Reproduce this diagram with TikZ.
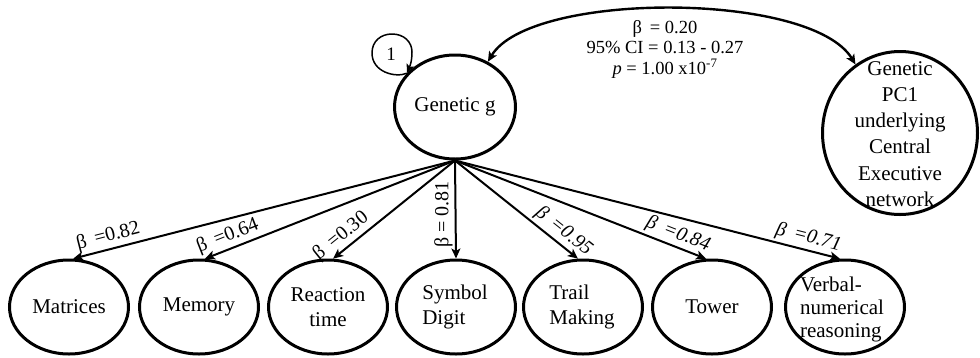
\documentclass[tikz,border=0pt]{standalone}
\usepackage{fontspec}
\setmainfont{Liberation Serif}
\usetikzlibrary{shapes.geometric,arrows.meta}

\begin{document}
\begin{tikzpicture}[x=1pt,y=-1pt,
  oval/.style={ellipse, draw, line width=3pt, inner sep=0pt},
  measure/.style={oval, minimum width=119pt, minimum height=94pt},
  txt/.style={font=\fontsize{21}{25}\selectfont, inner sep=0pt},
  loading/.style={line width=2pt, -{Stealth[length=10pt,width=9pt,inset=2.5pt]}},
  coef/.style={font=\fontsize{20}{24}\selectfont, sloped, above, inner sep=2.5pt},
  covar/.style={line width=2.4pt, {Stealth[length=10pt,width=9pt,inset=2.5pt]}-{Stealth[length=10pt,width=9pt,inset=2.5pt]}},
  varloop/.style={line width=1.5pt, -{Stealth[length=9pt,width=8pt,inset=2pt]}},
]
\useasboundingbox (0,0) rectangle (980,357);

% latent factors
\node[oval, minimum width=121pt, minimum height=104pt] (g) at (455,107) {};
\node[txt] (gt) at (g.center) {Genetic g};
\node[oval, minimum width=155pt, minimum height=163pt] (pc) at (900,133) {};
\node[txt, font=\fontsize{21}{26.2}\selectfont, align=center] (pct) at (900,134)
  {Genetic\\PC1\\underlying\\Central\\Executive\\network};

% cognitive measures
\node[measure] (mat) at (69,307) {};
\node[measure] (mem) at (199,307) {};
\node[measure] (rt)  at (328,307) {};
\node[measure] (sd)  at (456,307) {};
\node[measure] (tm)  at (583,307) {};
\node[measure] (tw)  at (712,307) {};
\node[measure] (vn)  at (845,307) {};

\node[txt] (matt) at (mat.center) {Matrices};
\node[txt] (memt) at (mem.center) {Memory};
\node[txt, align=center] (rtt) at (rt.center) {Reaction\\time};
\node[txt, align=left] (sdt) at (455,307) {Symbol\\Digit};
\node[txt, align=left] (tmt) at (582,307) {Trail\\Making};
\node[txt] (twt) at (tw.center) {Tower};
\node[txt, align=left, font=\fontsize{21}{23}\selectfont] (vnt) at (842,309) {Verbal-\\numerical\\reasoning};

% variance of g fixed to 1
\node[font=\fontsize{19}{22}\selectfont, inner sep=0pt] (one) at (391,54) {1};
\draw[varloop] (g.145) .. controls (395,78) and (372,72) .. (372,53)
  .. controls (372,41) and (381,34) .. (392,34)
  .. controls (404,34) and (412,42) .. (412,52)
  .. controls (412,61) and (410,66) .. (g.145);

% covariance between g and PC1
\draw[covar] (g.54) .. controls (530,-9) and (811,-9) .. (pc.123);
\node[font=\fontsize{18.5}{20.5}\selectfont, align=center, inner sep=0pt] (cv) at (665,49)
  {β\, = 0.20\\95\% CI = 0.13 - 0.27\\\textit{p} = 1.00 x10\textsuperscript{-7}};

% factor loadings
\draw[loading] (g.south) -- node[coef, pos=0.9] {β\, =0.82} (mat.85);
\draw[loading] (g.south) -- node[coef, pos=0.89] {β\, =0.64} (mem.83);
\draw[loading] (g.south) -- node[coef, pos=0.87] {β\, =0.30} (rt.84);
\draw[loading] (g.south) -- node[pos=0.55, rotate=90, anchor=south, inner sep=2pt,
  font=\fontsize{20}{24}\selectfont] {β = 0.81} (sd.north);
\draw[loading] (g.south) -- node[coef, pos=0.82] {\textit{β\, =0.95}} (tm.96);
\draw[loading] (g.south) -- node[coef, pos=0.87] {\textit{β\, =0.84}} (tw.97);
\draw[loading] (g.south) -- node[coef, pos=0.91] {\textit{β\, =0.71}} (vn.96);
\end{tikzpicture}
\end{document}
